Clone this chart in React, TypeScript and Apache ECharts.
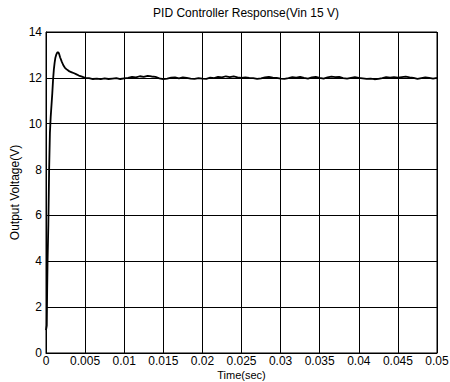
import React, { useEffect, useRef } from "react";
import * as echarts from "echarts";

const titleText = "PID Controller Response(Vin 15 V)";
const xName = "Time(sec)";
const yName = "Output Voltage(V)";

// transient part
const transientT = [0, 0.0001, 0.00015, 0.0002, 0.0003, 0.0004, 0.0005, 0.0006, 0.0007, 0.0008, 0.0009, 0.001, 0.0011, 0.0012, 0.0013, 0.0014, 0.0015, 0.0016, 0.0017, 0.0018, 0.002, 0.0022, 0.0024, 0.0026, 0.0028, 0.003, 0.0033, 0.0036, 0.0039, 0.0042, 0.0046, 0.005];
const transientV = [1.0, 1.2, 2.8, 4.0, 5.6, 8.0, 9.6, 10.3, 10.8, 11.3, 11.9, 12.35, 12.65, 12.88, 13.0, 13.08, 13.12, 13.1, 13.02, 12.9, 12.72, 12.56, 12.45, 12.38, 12.33, 12.28, 12.24, 12.2, 12.15, 12.1, 12.05, 12.0];

// steady part, every 0.0005 s from 0.0055 to 0.05
const steadyStart = 0.0055;
const steadyStep = 0.0005;
const steadyV = [
  11.99, 11.95, 11.97, 11.94, 11.98, 11.95, 11.97, 11.99, 11.95, 11.98,
  12.0, 12.04, 12.02, 12.07, 12.04, 12.09, 12.06, 12.04, 11.98, 11.94,
  11.97, 12.01, 12.02, 11.98, 12.02, 12.0, 11.97, 11.96, 11.99, 11.97,
  11.96, 12.01, 11.99, 12.04, 12.02, 12.07, 12.03, 12.06, 12.02, 12.0,
  12.02, 12.0, 11.99, 11.96, 11.98, 12.02, 12.04, 12.01, 12.0, 11.97,
  11.96, 11.99, 12.03, 12.01, 12.04, 12.0, 11.97, 12.02, 12.04, 12.0,
  11.97, 12.02, 12.05, 12.03, 12.04, 11.99, 11.97, 12.0, 12.03, 12.0,
  11.98, 11.96, 11.97, 11.94, 11.96, 11.99, 12.03, 12.01, 12.03, 12.01,
  12.03, 12.05, 12.02, 12.0, 11.96, 11.99, 12.02, 12.0, 11.97, 12.0,
];

const font = "'Liberation Sans', Arial, sans-serif";

export default function App() {
  const ref = useRef<HTMLDivElement>(null);
  useEffect(() => {
    if (!ref.current) return;
    const chart = echarts.init(ref.current, null, { renderer: "svg" });
    const data: [number, number][] = [];
    transientT.forEach((t, i) => data.push([t, transientV[i]]));
    steadyV.forEach((v, i) => data.push([+(steadyStart + i * steadyStep).toFixed(5), v]));
    chart.setOption({
      animation: false,
      backgroundColor: "#fff",
      title: {
        text: titleText,
        left: 241,
        textAlign: "center",
        top: 2,
        textStyle: { fontFamily: font, fontSize: 12, fontWeight: "normal", color: "#000" },
      },
      grid: {
        left: 46,
        right: 13,
        top: 32,
        bottom: 29,
        containLabel: false,
        outerBoundsMode: "none",
        show: true,
        borderColor: "#000",
        borderWidth: 1,
        backgroundColor: "#fff",
      },
      xAxis: {
        type: "value",
        min: 0,
        max: 0.05,
        interval: 0.005,
        name: xName,
        nameLocation: "middle",
        nameGap: 16,
        nameMoveOverlap: false,
        nameTextStyle: { fontFamily: font, fontSize: 11, color: "#000" },
        axisLine: { show: true, lineStyle: { color: "#000", width: 1 } },
        axisTick: { show: false },
        axisLabel: {
          fontFamily: font,
          fontSize: 12,
          color: "#000",
          margin: 2,
          formatter: (v: number) => String(+v.toFixed(3)),
        },
        splitLine: { show: true, lineStyle: { color: "#000", width: 1 } },
      },
      yAxis: {
        type: "value",
        min: 0,
        max: 14,
        interval: 2,
        name: yName,
        nameLocation: "middle",
        nameGap: 25,
        nameMoveOverlap: false,
        nameTextStyle: { fontFamily: font, fontSize: 12, color: "#000" },
        axisLine: { show: true, lineStyle: { color: "#000", width: 1 } },
        axisTick: { show: false },
        axisLabel: { fontFamily: font, fontSize: 12, color: "#000", margin: 4 },
        splitLine: { show: true, lineStyle: { color: "#000", width: 1 } },
      },
      series: [
        {
          type: "line",
          data,
          showSymbol: false,
          symbol: "none",
          lineStyle: { color: "#000", width: 1.8 },
        },
      ],
    });
    return () => chart.dispose();
  }, []);
  return <div ref={ref} style={{ width: 450, height: 382, position: "absolute", left: 0, top: 0 }} />;
}
